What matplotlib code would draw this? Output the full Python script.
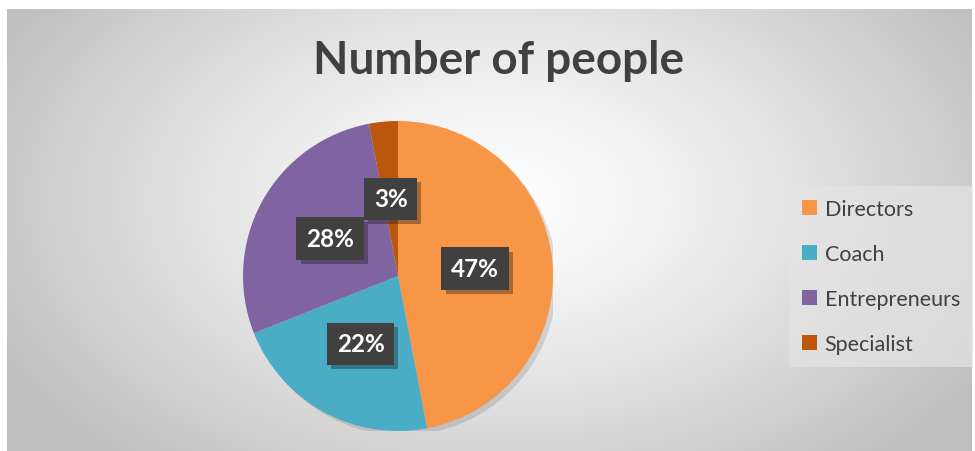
import matplotlib
matplotlib.use("Agg")
import matplotlib.pyplot as plt
import matplotlib.patheffects as pe
from matplotlib.patches import Patch, Circle
import numpy as np

# chart data
categories = ["Directors", "Coach", "Entrepreneurs", "Specialist"]
values = [47, 22, 28, 3]
colors = ["#F79646", "#4BACC6", "#8064A2", "#BA570C"]
title = "Number of people"

plt.rcParams['font.family'] = ['Lato', 'DejaVu Sans']

W, H = 975, 452
fig = plt.figure(figsize=(W / 100, H / 100), dpi=100)
fig.patch.set_facecolor("white")

# radial gradient background of the chart area
bg = fig.add_axes([7 / W, 0, (W - 10) / W, (H - 10) / H])
yy, xx = np.mgrid[0:H - 10, 0:W - 10]
d = np.sqrt(((xx - 490) / 1.0) ** 2 + ((yy - 190) * 1.6) ** 2)
g = 1 - 0.25 * np.clip(d / 560, 0, 1) ** 1.3
bg.imshow(np.dstack([g, g, g]), aspect='auto', interpolation='bilinear')
bg.set_axis_off()

# pie
cx, cy, r = 398, 277, 155
ax = fig.add_axes([(cx - r) / W, (H - cy - r) / H, 2 * r / W, 2 * r / H])
# soft shadow behind the whole pie
shadow = Circle((0, 0), 1, facecolor="white", edgecolor="none", zorder=0)
shadow.set_path_effects([pe.SimplePatchShadow(offset=(3, -3), alpha=0.18)])
ax.add_patch(shadow)
wedges, texts, autotexts = ax.pie(
    values, colors=colors, startangle=90, counterclock=False, radius=1,
    autopct='%1.0f%%', pctdistance=0.5,
    wedgeprops=dict(linewidth=0),
    textprops=dict(color="white", fontsize=17.5, fontweight="bold"))
for t in autotexts:
    t.set_bbox(dict(boxstyle="square,pad=0.4", facecolor="#404040", edgecolor="none"))
    t.get_bbox_patch().set_path_effects([pe.SimplePatchShadow(offset=(3, -3), alpha=0.35), pe.Normal()])
ax.set_xlim(-1, 1)
ax.set_ylim(-1, 1)
ax.set_axis_off()

fig.text(499 / W, 1 - 61 / H, title, ha="center", va="center",
         fontsize=33, fontweight="bold", color="#404040")

handles = [Patch(facecolor=c, edgecolor="none") for c in colors]
leg = fig.legend(handles, categories, loc="upper left",
                 bbox_to_anchor=(789 / W, 1 - 187 / H), borderaxespad=0,
                 frameon=True, fancybox=False, fontsize=15.5,
                 handlelength=0.7, handleheight=0.7, handletextpad=0.35,
                 labelspacing=1.16, borderpad=0.6, labelcolor="#404040")
frame = leg.get_frame()
frame.set_facecolor("#e4e4e4")
frame.set_edgecolor("none")
frame.set_alpha(0.7)

fig.savefig("out.png", dpi=100)
